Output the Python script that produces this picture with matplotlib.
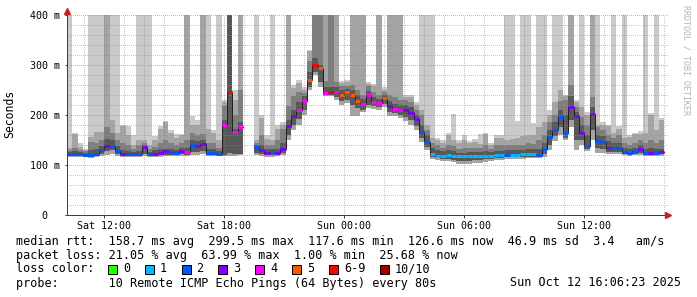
import numpy as np
import matplotlib
matplotlib.use("Agg")
import matplotlib.pyplot as plt
from matplotlib.patches import Rectangle

W, H = 697, 297
nan = np.nan

# ---------------- data (hours relative to Sat 12:00) ----------------
t_start = -1.85
step_h = 16 / 60.0

median = [122, 122, 122, 121, 120, 122, 130, 139, 139, 129,
          123, 123, 123, 123, 137, 123, 123, 125, 128, 127,
          125, 129, 127, 141, 139, 142, 125, 125, 123, 180,
          246, 166, 175, nan, nan, 137, 131, 125, 127, 125,
          133, 177, 198, 210, 227, 269, 299.5, 293, 243, 245,
          245, 240, 245, 239, 227, 221, 239, 226, 223, 233,
          217, 212, 209, 210, 203, 192, 167, 146, 123, 119,
          119, 121, 119, 117.6, 118, 119, 119, 119, 119, 119,
          120, 120, 121, 121, 121, 122, 122, 122, 121, 133,
          157, 171, 195, 165, 215, 197, 165, 139, 202, 149,
          146, 135, 135, 135, 127, 125, 128, 133, 125, 125,
          125, 126.6]

loss = [2, 2, 2, 2, 2, 2, 2, 3, 2, 2,
        3, 2, 2, 2, 3, 2, 3, 3, 3, 2,
        2, 3, 4, 2, 3, 3, 2, 2, 2, 4,
        7, 4, 4, 0, 0, 2, 3, 3, 2, 3,
        3, 3, 3, 4, 4, 5, 7, 5, 4, 7,
        4, 5, 5, 5, 5, 4, 4, 4, 4, 5,
        3, 4, 4, 3, 3, 3, 2, 2, 1, 1,
        1, 1, 1, 1, 1, 1, 1, 1, 1, 1,
        1, 1, 2, 1, 1, 1, 1, 1, 2, 2,
        2, 2, 2, 2, 3, 3, 3, 2, 3, 2,
        2, 3, 2, 2, 2, 2, 2, 3, 2, 3,
        2, 3]

# smoke: outer bottom, inner bottom, and tops of the four grey layers
lo = [116, 116, 117, 116, 115, 116, 118, 120, 122, 118,
      117, 117, 117, 116, 118, 116, 117, 117, 118, 118,
      118, 118, 118, 120, 121, 122, 118, 118, 118, 118,
      119, 119, 120, nan, nan, 120, 118, 117, 117, 118,
      120, 150, 170, 180, 200, 250, 280, 255, 237, 237,
      230, 220, 223, 197, 197, 205, 213, 212, 210, 215,
      197, 197, 193, 187, 180, 170, 147, 130, 113, 110,
      108, 108, 106, 102, 103, 103, 104, 104, 107, 108,
      110, 110, 112, 113, 113, 113, 114, 114, 114, 117,
      130, 148, 160, 150, 175, 130, 140, 128, 150, 125,
      125, 122, 122, 122, 120, 119, 120, 120, 119, 119,
      119, 119]

lo_in = [119, 119, 119, 119, 118, 119, 123, 128, 130, 123,
         120, 120, 120, 119, 122, 120, 120, 120, 121, 121,
         121, 122, 121, 126, 126, 128, 121, 121, 121, 120,
         125, 122, 122, nan, nan, 125, 122, 120, 120, 121,
         125, 160, 180, 192, 210, 255, 285, 265, 240, 240,
         236, 228, 230, 220, 213, 210, 220, 218, 216, 222,
         205, 203, 200, 195, 190, 178, 155, 136, 117, 114,
         112, 113, 111, 108, 109, 109, 110, 110, 112, 112,
         114, 114, 116, 116, 116, 117, 117, 117, 117, 122,
         140, 158, 175, 155, 190, 150, 150, 132, 170, 135,
         132, 127, 127, 126, 123, 122, 123, 124, 122, 122,
         122, 122]

hi4 = [126, 128, 126, 125, 130, 132, 138, 153, 150, 138,
       130, 128, 127, 128, 140, 127, 130, 132, 133, 132,
       130, 134, 134, 150, 148, 150, 133, 133, 128, 190,
       500, 172, 185, nan, nan, 140, 140, 132, 133, 133,
       145, 190, 210, 225, 237, 285, 313, 300, 255, 255,
       255, 250, 252, 250, 240, 232, 248, 235, 232, 240,
       228, 222, 220, 220, 215, 200, 180, 160, 135, 130,
       128, 130, 128, 124, 125, 127, 127, 127, 128, 127,
       128, 128, 130, 130, 130, 130, 133, 132, 132, 145,
       170, 185, 210, 200, 237, 205, 180, 160, 215, 160,
       158, 148, 145, 145, 135, 133, 135, 140, 133, 135,
       133, 133]

hi3 = [130, 135, 130, 128, 147, 145, 150, 175, 165, 150,
       145, 140, 133, 140, 145, 133, 137, 145, 150, 145,
       140, 145, 150, 165, 160, 162, 145, 145, 135, 217,
       500, 200, 250, nan, nan, 145, 160, 140, 140, 150,
       173, 217, 237, 245, 243, 307, 500, 500, 267, 500,
       265, 258, 258, 260, 250, 240, 258, 245, 240, 245,
       240, 235, 230, 230, 225, 210, 200, 170, 145, 140,
       135, 140, 138, 132, 135, 135, 135, 135, 140, 133,
       140, 140, 140, 140, 140, 140, 145, 143, 150, 160,
       185, 200, 228, 230, 260, 215, 195, 180, 235, 175,
       170, 160, 155, 160, 145, 140, 145, 150, 145, 150,
       145, 150]

hi2 = [135, 162, 136, 131, 157, 167, 167, 500, 189, 165,
       177, 160, 140, 151, 151, 140, 150, 173, 185, 165,
       155, 161, 500, 180, 180, 500, 173, 165, 150, 225,
       500, 230, 500, nan, nan, 150, 193, 153, 150, 173,
       180, 500, 253, 263, 250, 327, 500, 500, 500, 500,
       500, 263, 265, 500, 500, 500, 262, 258, 500, 250,
       500, 500, 500, 235, 235, 220, 210, 180, 155, 151,
       145, 160, 150, 145, 150, 145, 147, 143, 163, 140,
       155, 155, 150, 152, 155, 158, 160, 160, 175, 185,
       200, 225, 250, 237, 500, 225, 215, 200, 500, 180,
       180, 177, 165, 173, 155, 157, 163, 163, 165, 200,
       170, 190]

hi1 = [500, 165, 145, 133, 500, 500, 500, 500, 500, 500,
       180, 177, 160, 500, 500, 500, 158, 177, 187, 170,
       163, 163, 500, 197, 189, 500, 500, 170, 500, 230,
       500, 250, 500, nan, nan, 500, 200, 160, 500, 180,
       185, 500, 260, 270, 255, 330, 500, 500, 500, 500,
       500, 268, 270, 500, 500, 500, 265, 262, 500, 255,
       500, 500, 500, 240, 240, 225, 500, 500, 500, 155,
       150, 165, 202, 150, 160, 148, 152, 163, 165, 145,
       160, 160, 500, 500, 187, 500, 500, 183, 500, 500,
       210, 500, 500, 240, 500, 230, 500, 205, 500, 500,
       185, 180, 500, 178, 500, 160, 165, 168, 500, 203,
       500, 193]

loss_labels = ["0", "1", "2", "3", "4", "5", "6-9", "10/10"]
loss_colors = ["#26ff00", "#00b8ff", "#0059ff", "#7e00ff",
               "#ff00ff", "#ff5500", "#ff0000", "#a10000"]

tick_hours = [0, 6, 12, 18, 24]
tick_labels = ["Sat 12:00", "Sat 18:00", "Sun 00:00", "Sun 06:00", "Sun 12:00"]
y_ticks = [0, 100, 200, 300, 400]
y_tick_labels = ["0  ", "100 m", "200 m", "300 m", "400 m"]

legend_lines = [
    "median rtt:  158.7 ms avg  299.5 ms max  117.6 ms min  126.6 ms now  46.9 ms sd  3.4   am/s",
    "packet loss: 21.05 % avg  63.99 % max  1.00 % min  25.68 % now",
    "loss color:",
    "probe:       10 Remote ICMP Echo Pings (64 Bytes) every 80s",
]
timestamp = "Sun Oct 12 16:06:23 2025"
watermark = "RRDTOOL / TOBI OETIKER"

# ---------------- drawing ----------------
MONO = "DejaVu Sans Mono"
PX = 72.0 / 100.0  # points per pixel

n = len(median)
edges = t_start + step_h * np.arange(n + 1)
xs = np.column_stack([edges[:-1], edges[1:]]).ravel()


def rep(a):
    return np.repeat(np.asarray(a, dtype=float), 2)


fig = plt.figure(figsize=(W / 100, H / 100), dpi=100, facecolor="white")
ax = fig.add_axes([67 / W, (H - 215) / H, (668 - 67) / W, 200 / H])
ax.set_facecolor("white")
ax.set_xlim(t_start, (668 - 104) / 20.0)
ax.set_ylim(0, 400)

layers = [(lo, hi1, "#cacaca"), (lo, hi2, "#a4a4a4"),
          (lo_in, hi3, "#7e7e7e"), (lo_in, hi4, "#585858")]
for bot, top, col in layers:
    b = rep(bot)
    t = np.minimum(rep(top), 420)
    ax.fill_between(xs, b, t, color=col, linewidth=0, zorder=1)

# grid (drawn over the smoke, semi transparent like rrdtool)
grid_kw = dict(linewidth=PX, linestyle=(0, (1, 2)), zorder=2, antialiased=False)
for hr in range(-1, 29):
    if hr % 3 != 0:
        ax.axvline(hr, color="#909090", alpha=0.5, **grid_kw)
for v in range(20, 401, 20):
    if v % 100 != 0:
        ax.axhline(v, color="#909090", alpha=0.5, **grid_kw)
for hr in range(0, 29, 3):
    ax.axvline(hr, color="#e05050", alpha=0.5, **grid_kw)
for v in range(100, 401, 100):
    ax.axhline(v, color="#e05050", alpha=0.5, **grid_kw)

# median line and loss-coloured segments
ax.plot(xs, rep(median), color="#202020", linewidth=1.0 * PX, zorder=3)
med = np.asarray(median, dtype=float)
ci = [min(l, 6) if l < 10 else 7 for l in loss]
seg_colors = [loss_colors[c] for c in ci]
ok = ~np.isnan(med)
ax.hlines(med[ok], edges[:-1][ok], edges[1:][ok],
          colors=[c for c, o in zip(seg_colors, ok) if o],
          linewidth=3 * PX, zorder=4)

# axes
for s in ["top", "right"]:
    ax.spines[s].set_visible(False)
for s in ["left", "bottom"]:
    ax.spines[s].set_color("#404040")
    ax.spines[s].set_linewidth(PX)
    ax.spines[s].set_zorder(5)
ax.plot([1.0], [0], marker=">", transform=ax.transAxes, clip_on=False,
        color="#c82020", markersize=4, zorder=6)
ax.plot([0], [1.02], marker="^", transform=ax.transAxes, clip_on=False,
        color="#c82020", markersize=4, zorder=6)

ax.set_xticks(tick_hours)
ax.set_xticklabels(tick_labels, family=MONO, fontsize=7.2)
ax.set_yticks(y_ticks)
ax.set_yticklabels(y_tick_labels, family=MONO, fontsize=7.2)
ax.tick_params(axis="x", length=3 * PX, width=PX, color="#404040", pad=2.5)
ax.tick_params(axis="y", length=2 * PX, width=PX, color="#404040", pad=5 * PX)

ax.set_ylabel("Seconds", family=MONO, fontsize=8.3)
ax.yaxis.set_label_coords((16 - 67) / 601, (215 - 114) / 200)

fig.text(686 / W, 1 - 5 / H, watermark, rotation=-90, ha="center", va="top",
         family=MONO, fontsize=6, color="#b4b4b4")

# legend area
CW = 7.1
line_y = [241, 255, 269, 283]
for txt, yy in zip(legend_lines, line_y):
    fig.text(16 / W, 1 - yy / H, txt, ha="left", va="center",
             family=MONO, fontsize=8.5)
fig.text(681 / W, 1 - 283 / H, timestamp, ha="right", va="center",
         family=MONO, fontsize=8.5)

bx = 108.0
for lab, col in zip(loss_labels, loss_colors):
    fig.patches.append(Rectangle((bx / W, 1 - 274 / H), 9 / W, 9 / H,
                                 transform=fig.transFigure, facecolor=col,
                                 edgecolor="black", linewidth=PX))
    fig.text((bx + 15) / W, 1 - 269 / H, lab, ha="left", va="center",
             family=MONO, fontsize=8.5)
    bx = bx + 15 + CW * len(lab) + 2 * CW + 0.5

fig.savefig("out.png", dpi=100, facecolor="white")
